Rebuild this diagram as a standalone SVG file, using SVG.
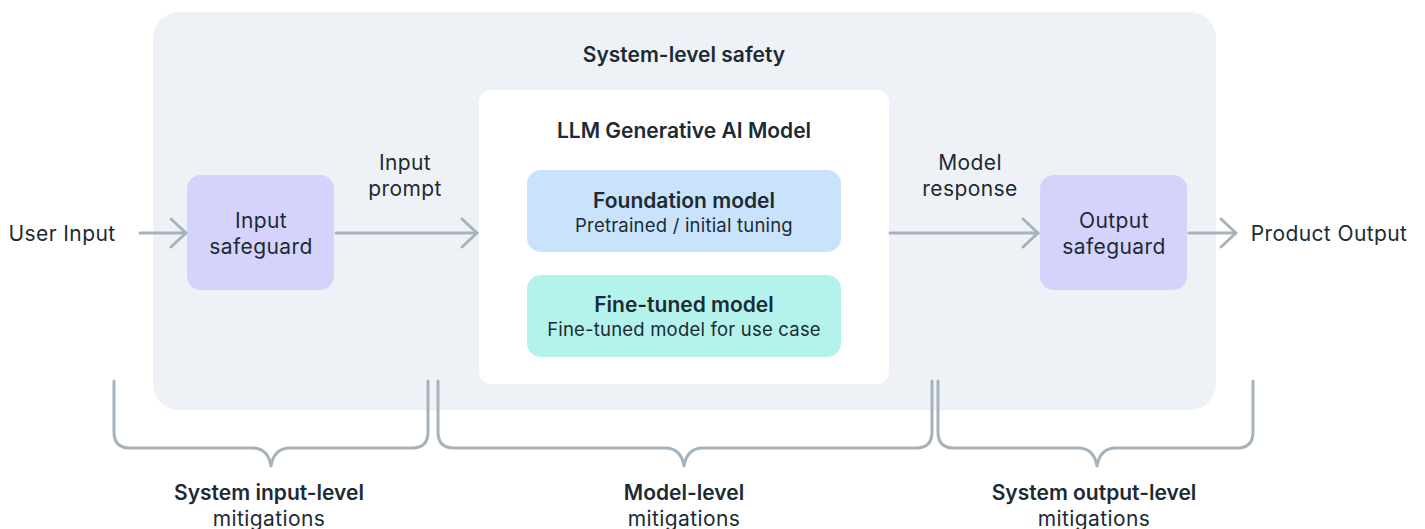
<svg xmlns="http://www.w3.org/2000/svg" width="1425" height="529" viewBox="0 0 1425 529">
<defs>
<marker id="chev" viewBox="0 0 22 34" refX="19" refY="17" markerWidth="22" markerHeight="34" markerUnits="userSpaceOnUse" orient="auto">
<path d="M4,3 L19,17 L4,31" fill="none" stroke="#a7b3bc" stroke-width="3" stroke-linecap="round" stroke-linejoin="round"/>
</marker>
<style>
text{font-family:Inter,"Noto Sans","Liberation Sans",sans-serif;fill:#1c2b33;text-anchor:middle;}
.t{font-size:21px;letter-spacing:0.4px;}
.b{font-size:21px;font-weight:600;}
.s{font-size:18.5px;letter-spacing:0.2px;}
.ln{fill:none;stroke:#a7b3bc;stroke-width:3;stroke-linecap:round;}
.br{fill:none;stroke:#a7b3bc;stroke-width:3;stroke-linecap:round;stroke-linejoin:round;}
</style>
</defs>
<rect width="1425" height="529" fill="#ffffff"/>
<g id="system">
<rect x="153" y="12" width="1063" height="398" rx="26" fill="#eef2f6"/>
<text class="b" x="684" y="62">System-level safety</text>
</g>
<g id="llm">
<rect x="479" y="90" width="410" height="294" rx="12" fill="#ffffff"/>
<text class="b" x="684" y="138">LLM Generative AI Model</text>
</g>
<g id="foundation">
<rect x="527" y="170" width="314" height="82" rx="14" fill="#c8e3fb"/>
<text class="b" x="684" y="208">Foundation model</text>
<text class="s" x="684" y="232">Pretrained / initial tuning</text>
</g>
<g id="finetuned">
<rect x="527" y="275" width="314" height="82" rx="14" fill="#b4f2ec"/>
<text class="b" x="684" y="312">Fine-tuned model</text>
<text class="s" x="684" y="336">Fine-tuned model for use case</text>
</g>
<g id="input-safeguard">
<rect x="187" y="175" width="147" height="115" rx="14" fill="#d5d3fc"/>
<text class="t" x="261" y="228">Input</text>
<text class="t" x="261" y="254">safeguard</text>
</g>
<g id="output-safeguard">
<rect x="1040" y="175" width="147" height="115" rx="14" fill="#d5d3fc"/>
<text class="t" x="1114" y="228">Output</text>
<text class="t" x="1114" y="254">safeguard</text>
</g>
<g id="user-input"><text class="t" x="62" y="241">User Input</text></g>
<g id="product-output"><text class="t" x="1329" y="241">Product Output</text></g>
<g id="connectors">
<line class="ln" x1="140" y1="233" x2="186" y2="233" marker-end="url(#chev)"/>
<line class="ln" x1="336" y1="233" x2="477" y2="233" marker-end="url(#chev)"/>
<line class="ln" x1="890" y1="233" x2="1038" y2="233" marker-end="url(#chev)"/>
<line class="ln" x1="1189" y1="233" x2="1236" y2="233" marker-end="url(#chev)"/>
<text class="t" x="405" y="170">Input</text>
<text class="t" x="405" y="196">prompt</text>
<text class="t" x="970" y="170">Model</text>
<text class="t" x="970" y="196">response</text>
</g>
<g id="brace-input">
<path class="br" d="M114,381 L114,432 Q114,448 130,448 L252,448 Q268,448 271,466 Q274,448 290,448 L412,448 Q428,448 428,432 L428,381"/>
<text class="b" x="269" y="500">System input-level</text>
<text class="t" x="269" y="526">mitigations</text>
</g>
<g id="brace-model">
<path class="br" d="M438,381 L438,432 Q438,448 454,448 L665,448 Q681,448 684,466 Q687,448 703,448 L916,448 Q932,448 932,432 L932,381"/>
<text class="b" x="684" y="500">Model-level</text>
<text class="t" x="684" y="526">mitigations</text>
</g>
<g id="brace-output">
<path class="br" d="M938,381 L938,432 Q938,448 954,448 L1078,448 Q1094,448 1097,466 Q1100,448 1116,448 L1237,448 Q1253,448 1253,432 L1253,381"/>
<text class="b" x="1094" y="500">System output-level</text>
<text class="t" x="1094" y="526">mitigations</text>
</g>
</svg>
